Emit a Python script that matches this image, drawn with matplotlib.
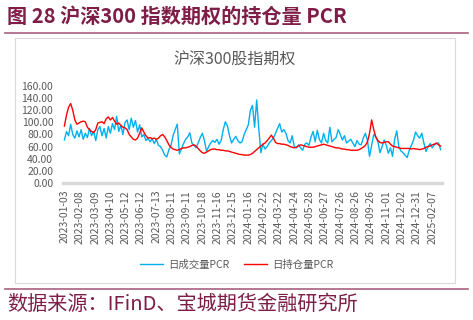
import numpy as np
import matplotlib
matplotlib.use("Agg")
import matplotlib.pyplot as plt
from matplotlib.lines import Line2D
from matplotlib.patches import Rectangle

plt.rcParams['font.family'] = ['Noto Sans CJK SC', 'DejaVu Sans']

# ------------------------------------------------------------
#  data (one sample every 3 trading days)
# ------------------------------------------------------------
step_days = 3

tick_labels = [
    "2023-01-03", "2023-02-08", "2023-03-09", "2023-04-10", "2023-05-12",
    "2023-06-12", "2023-07-13", "2023-08-11", "2023-09-11", "2023-10-18",
    "2023-11-16", "2023-12-15", "2024-01-16", "2024-02-22", "2024-03-22",
    "2024-04-24", "2024-05-28", "2024-06-27", "2024-07-26", "2024-08-26",
    "2024-09-26", "2024-11-01", "2024-12-02", "2024-12-31", "2025-02-07",
]
tick_every_days = 22

# 日成交量PCR
volume_pcr = [
    71, 85, 78, 97, 80, 74, 86, 76, 88, 72,
    82, 75, 90, 78, 85, 70, 88, 93, 78, 90,
    74, 93, 82, 98, 88, 110, 85, 95, 80, 100,
    104, 88, 107, 92, 103, 84, 96, 76, 80, 70,
    74, 68, 73, 65, 72, 62, 60, 54, 46, 43,
    55, 62, 78, 88, 97, 48, 56, 65, 72, 76,
    83, 66, 62, 58, 66, 75, 82, 70, 52, 60,
    66, 70, 67, 72, 64, 70, 88, 101, 94, 78,
    66, 72, 77, 70, 66, 68, 80, 88, 96, 120,
    128, 92, 137, 90, 50, 64, 56, 60, 66, 70,
    74, 82, 90, 98, 84, 88, 82, 70, 66, 78,
    60, 58, 63, 58, 54, 64, 66, 62, 76, 85,
    68, 87, 72, 66, 82, 70, 66, 92, 68, 72,
    75, 88, 80, 71, 78, 66, 69, 72, 66, 60,
    70, 64, 63, 74, 82, 70, 44, 62, 80, 76,
    68, 50, 60, 71, 62, 49, 58, 44, 72, 86,
    60, 53, 50, 46, 42, 54, 62, 70, 84, 78,
    74, 82, 66, 52, 60, 65, 58, 63, 65, 66,
    55,
]

# 日持仓量PCR
oi_pcr = [
    94, 112, 125, 131, 120, 104, 97, 99, 101, 102,
    101, 92, 88, 85, 83, 88, 99, 100, 101, 98,
    106, 109, 104, 108, 102, 97, 99, 95, 92, 91,
    88, 80, 76, 72, 71, 74, 82, 91, 84, 78,
    74, 75, 73, 74, 72, 74, 78, 80, 76, 70,
    63, 59, 56, 55, 54, 55, 57, 58, 58, 59,
    60, 62, 63, 61, 57, 53, 50, 49, 51, 53,
    55, 56, 56, 55, 55, 54, 54, 53, 53, 52,
    51, 50, 49, 48, 47, 47, 46, 46, 46, 47,
    49, 52, 55, 58, 61, 64, 66, 70, 74, 79,
    74, 67, 65, 65, 64, 64, 63, 62, 60, 59,
    58, 59, 61, 63, 62, 61, 60, 59, 59, 59,
    60, 61, 62, 63, 64, 63, 62, 61, 60, 59,
    58, 58, 57, 56, 56, 55, 55, 54, 54, 54,
    54, 55, 57, 59, 62, 68, 82, 104, 88, 76,
    70, 67, 66, 67, 68, 68, 64, 61, 60, 59,
    58, 57, 57, 57, 57, 57, 56, 57, 56, 56,
    55, 56, 57, 59, 60, 61, 63, 64, 66, 63,
    61,
]

y_ticks = [0, 20, 40, 60, 80, 100, 120, 140, 160]

W, H = 473, 320
MAROON = "#7E1E48"
RULE = "#A8607F"
GREY_TXT = "#595959"


def fx(px):
    return px / W


def fy(py):
    return 1 - py / H


fig = plt.figure(figsize=(W / 100, H / 100), dpi=100)

# title + rules + chart frame
fig.text(fx(7), fy(16), "图 28 沪深300 指数期权的持仓量 PCR", color=MAROON,
         fontsize=14.5, fontweight="bold", ha="left", va="center")
fig.add_artist(Line2D([fx(5), fx(468)], [fy(33), fy(33)], color=RULE,
                      linewidth=1.2, transform=fig.transFigure))
fig.add_artist(Line2D([fx(5), fx(468)], [fy(289), fy(289)], color=RULE,
                      linewidth=1.2, transform=fig.transFigure))
fig.add_artist(Rectangle((fx(15), fy(283)), fx(455) - fx(15), fy(38) - fy(283),
                         fill=False, edgecolor="#D9D9D9", linewidth=0.8,
                         transform=fig.transFigure))
fig.text(fx(235), fy(59), "沪深300股指期权", color=GREY_TXT, fontsize=11.5,
         ha="center", va="center")
fig.text(fx(7), fy(304), "数据来源：IFinD、宝城期货金融研究所", color=MAROON,
         fontsize=14.5, ha="left", va="center")

# plot
ax = fig.add_axes([fx(63), fy(183), fx(442) - fx(63), fy(86) - fy(183)])
x_vol = np.arange(len(volume_pcr)) * step_days
x_oi = np.arange(len(oi_pcr)) * step_days
ax.plot(x_vol, volume_pcr, color="#00B0F0", linewidth=1.0, label="日成交量PCR")
ax.plot(x_oi, oi_pcr, color="#FF0000", linewidth=1.0, label="日持仓量PCR")

ax.set_ylim(0, 160)
ax.set_yticks(y_ticks)
ax.set_yticklabels([f"{v:.2f}" for v in y_ticks])
ax.set_xlim(-2, 542)
ax.set_xticks(np.arange(len(tick_labels)) * tick_every_days)
ax.set_xticklabels(tick_labels, rotation=90)

for s in ("top", "right", "left"):
    ax.spines[s].set_visible(False)
ax.spines["bottom"].set_color("#D9D9D9")
ax.spines["bottom"].set_linewidth(2.4)
ax.tick_params(axis="both", length=0, colors=GREY_TXT, labelsize=7.5)
ax.tick_params(axis="y", pad=7)
ax.tick_params(axis="x", pad=5)
ax.patch.set_alpha(0)

fig.legend(loc="center", bbox_to_anchor=(fx(237), fy(265)), ncol=2,
           frameon=False, fontsize=7.5, handlelength=2.2, handletextpad=0.5,
           columnspacing=1.4, labelcolor=GREY_TXT)

fig.savefig("out.png", dpi=100)
